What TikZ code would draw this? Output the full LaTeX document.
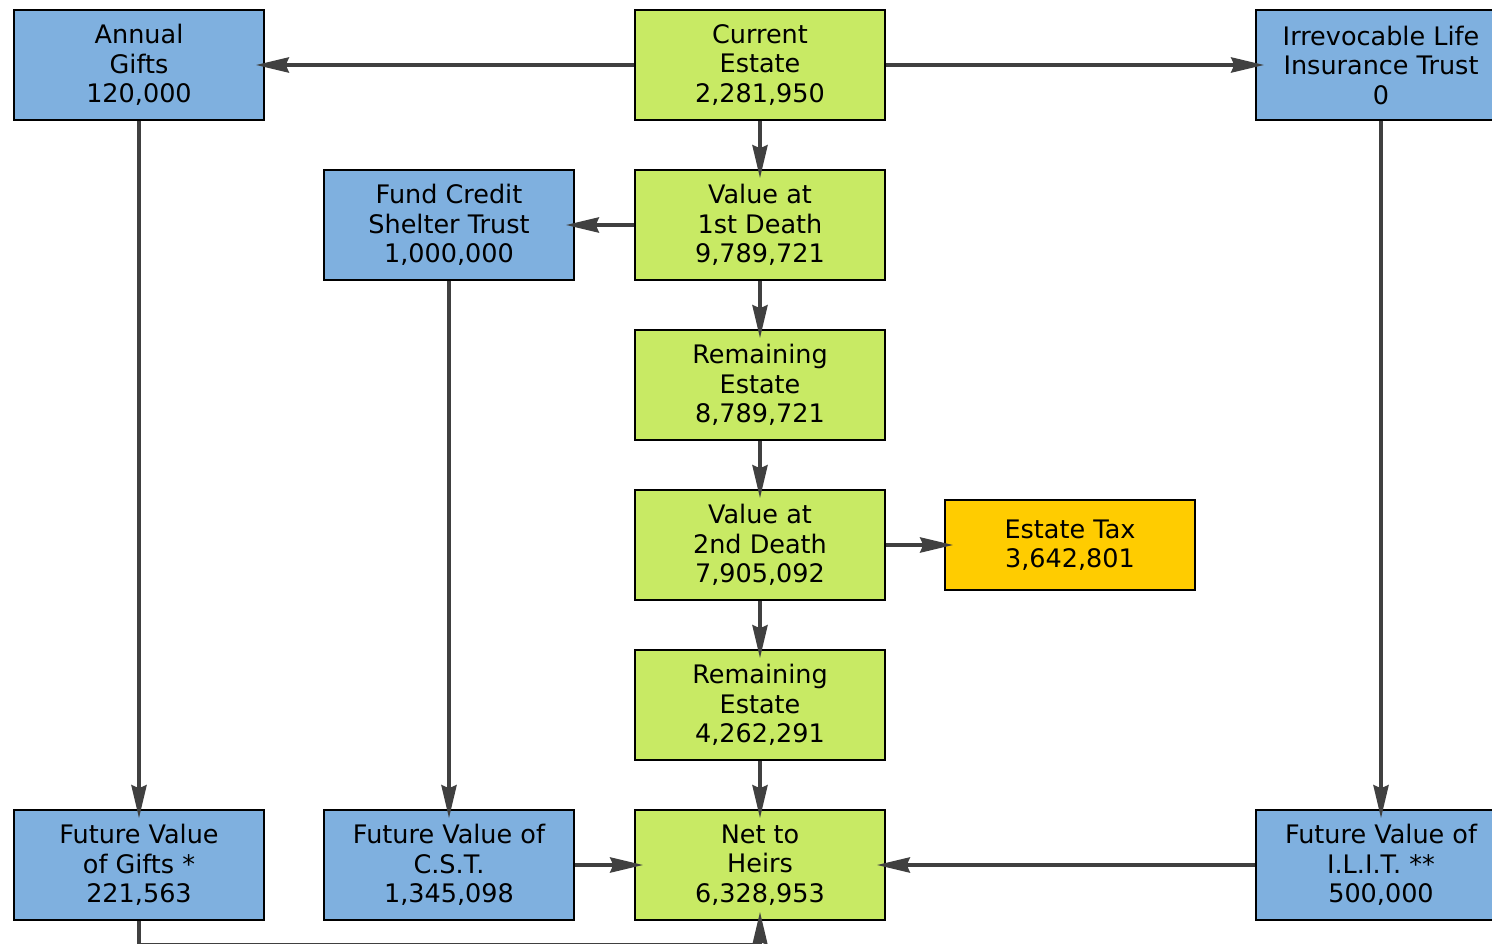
\documentclass[tikz,border=0pt]{standalone}
\usepackage{fontspec}
\setmainfont{DejaVu Sans}
\usetikzlibrary{arrows.meta}
\definecolor{boxblue}{RGB}{127,176,223}
\definecolor{boxgreen}{RGB}{200,234,100}
\definecolor{boxorange}{RGB}{255,204,0}
\definecolor{arrowgray}{RGB}{64,64,64}
\begin{document}
\begin{tikzpicture}[x=1pt,y=-1pt,
  box/.style={draw=black,line width=1.5pt,minimum width=250pt,minimum height=110pt,inner sep=0pt,
    align=center,font=\fontsize{25.5}{29.5}\selectfont},
  bluebox/.style={box,fill=boxblue},
  greenbox/.style={box,fill=boxgreen},
  orangebox/.style={box,fill=boxorange,minimum height=90pt},
  conn/.style={draw=arrowgray,line width=4pt,-{Stealth[length=33pt,width=15pt,inset=3pt]},shorten >=-9pt}
]
\useasboundingbox (0,0) rectangle (1492,944);
\node[bluebox] (gifts) at (139,65) {Annual\\Gifts\\120,000};
\node[greenbox] (cur) at (760,65) {Current\\Estate\\2,281,950};
\node[bluebox] (ilit) at (1381,65) {Irrevocable Life\\Insurance Trust\\0};
\node[bluebox] (cst) at (449,225) {Fund Credit\\Shelter Trust\\1,000,000};
\node[greenbox] (first) at (760,225) {Value at\\1st Death\\9,789,721};
\node[greenbox] (rem1) at (760,385) {Remaining\\Estate\\8,789,721};
\node[greenbox] (second) at (760,545) {Value at\\2nd Death\\7,905,092};
\node[orangebox] (tax) at (1070,545) {Estate Tax\\3,642,801};
\node[greenbox] (rem2) at (760,705) {Remaining\\Estate\\4,262,291};
\node[bluebox] (fvg) at (139,865) {Future Value\\of Gifts *\\221,563};
\node[bluebox] (fvcst) at (449,865) {Future Value of\\C.S.T.\\1,345,098};
\node[greenbox] (net) at (760,865) {Net to\\Heirs\\6,328,953};
\node[bluebox] (fvilit) at (1381,865) {Future Value of\\I.L.I.T. **\\500,000};
\coordinate (bl) at (139,945.2);
\draw[conn] (cur) -- (gifts);
\draw[conn] (cur) -- (ilit);
\draw[conn] (cur) -- (first);
\draw[conn] (first) -- (cst);
\draw[conn] (first) -- (rem1);
\draw[conn] (rem1) -- (second);
\draw[conn] (second) -- (tax);
\draw[conn] (second) -- (rem2);
\draw[conn] (rem2) -- (net);
\draw[conn] (gifts) -- (fvg);
\draw[conn] (cst) -- (fvcst);
\draw[conn] (ilit) -- (fvilit);
\draw[conn] (fvcst) -- (net);
\draw[conn] (fvilit) -- (net);
\draw[conn] (fvg.south) -- (bl) -| (net.south);
\end{tikzpicture}
\end{document}
